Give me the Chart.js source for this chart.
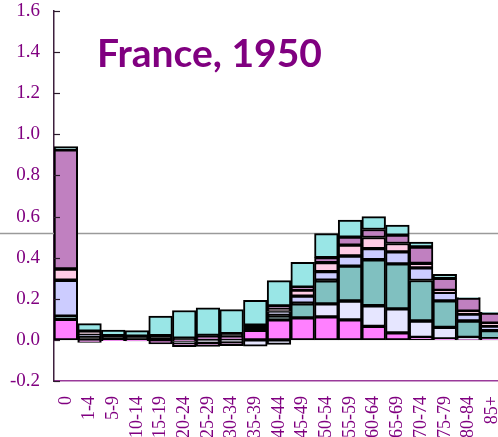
<!DOCTYPE html>
<html><head><meta charset="utf-8">
<script src="https://cdn.jsdelivr.net/npm/chart.js@4/dist/chart.umd.min.js"></script>
<style>
html,body{margin:0;padding:0;overflow:hidden;background:#fff;width:498px;height:437px}
#wrap{position:absolute;left:0;top:0;width:504px;height:470px}
</style>
</head><body><div id="wrap"><canvas id="c" width="504" height="470"></canvas></div>
<script>
const categories = ['0','1-4','5-9','10-14','15-19','20-24','25-29','30-34','35-39','40-44','45-49','50-54','55-59','60-64','65-69','70-74','75-79','80-84','85+'];
const magenta  = [0.100,-0.012,-0.004,-0.005,-0.020,-0.008,0.017,0.017,0.047,0.097,0.107,0.112,0.097,0.066,0.034,0.012,0.005,0.002,0.003];
const lightLav = [0,0,0,0,0,-0.005,-0.012,-0.010,-0.030,-0.022,0,0.063,0.092,0.100,0.117,0.080,0.056,0.010,0.003];
const teal     = [0.015,0,0,0,0,0,0,0,0,0.019,0.068,0.112,0.170,0.224,0.219,0.197,0.129,0.080,0.039];
const black    = [0,0.017,0.020,0.018,0.020,0.008,0.005,0.013,0.025,0.006,0.004,0.004,0,0,0,0,0,0,0];
const lavender = [0.175,0.006,0,0,0,0,0,0,0,0.016,0.034,0.041,0.049,0.054,0.058,0.061,0.041,0.034,0.022];
const pink     = [0.055,0.020,0,0,0,0,0,0,0,0.015,0.029,0.044,0.053,0.054,0.041,0.022,0.010,0.014,0.014];
const purple   = [0.580,0,0,0,0,-0.020,-0.020,-0.018,0,0.012,0.015,0.024,0.039,0.039,0.041,0.080,0.058,0.063,0.049];
const cyan     = [0.015,0.036,0.028,0.027,0.096,0.135,0.134,0.117,0.120,0.123,0.120,0.117,0.083,0.063,0.049,0.024,0.020,0.003,0.004];
const yMin = -0.2, yMax = 1.6, yStep = 0.2;
const refLine = 0.517;
const titleText = 'France, 1950';

const series = [
  {label:'s1', data:magenta,  color:'#FF80FF'},
  {label:'s2', data:lightLav, color:'#E6E6FF'},
  {label:'s3', data:teal,     color:'#80C0C0'},
  {label:'s4', data:black,    color:'#000000'},
  {label:'s5', data:lavender, color:'#CCCCFF'},
  {label:'s6', data:pink,     color:'#FFCCE6'},
  {label:'s7', data:purple,   color:'#C080C0'},
  {label:'s8', data:cyan,     color:'#99E6E6'}
];

const extras = {
  id:'extras',
  beforeDatasetsDraw(chart){
    const c = chart.ctx, y = chart.scales.y;
    const py = y.getPixelForValue(refLine);
    c.save();
    c.strokeStyle = '#9a9a9a'; c.lineWidth = 1.5;
    c.beginPath(); c.moveTo(0, py); c.lineTo(chart.width, py); c.stroke();
    c.restore();
  },
  afterDatasetsDraw(chart){
    const c = chart.ctx, y = chart.scales.y, a = chart.chartArea;
    c.save();
    c.strokeStyle = '#2a1a2a'; c.lineWidth = 1.2;
    y.ticks.forEach(t => {
      const p = Math.round(y.getPixelForValue(t.value)) + 0.5;
      c.beginPath(); c.moveTo(a.left, p); c.lineTo(a.left + 6, p); c.stroke();
    });
    c.fillStyle = '#800080';
    c.font = 'bold 39px Lato';
    c.textBaseline = 'alphabetic';
    c.fillText(titleText, 97, 67);
    c.restore();
  }
};

new Chart(document.getElementById('c').getContext('2d'), {
  type:'bar',
  data:{
    labels:categories,
    datasets:series.map(s => ({label:s.label, data:s.data, backgroundColor:s.color,
      borderColor:'#000', borderWidth:2, borderSkipped:false,
      barPercentage:1, categoryPercentage:1}))
  },
  options:{
    responsive:false, animation:false,
    layout:{padding:{left:0,right:0,top:11,bottom:0}},
    plugins:{legend:{display:false}, tooltip:{enabled:false}, title:{display:false}},
    scales:{
      x:{stacked:true,
        grid:{display:false, drawTicks:false},
        border:{display:true, color:'#9a3a9a', width:1.5},
        ticks:{minRotation:90, maxRotation:90, autoSkip:false, color:'#800080',
          font:{family:'Liberation Serif', size:18}, padding:15},
        afterFit:(s)=>{s.height = 89; s.paddingLeft = 0; s.paddingRight = 0;}
      },
      y:{stacked:true, min:yMin, max:yMax,
        grid:{display:false, drawTicks:false},
        border:{display:true, color:'#3d1f3d', width:1.5},
        ticks:{stepSize:yStep, color:'#800080', font:{family:'Liberation Serif', size:19}, padding:14,
          callback:(v)=>Number(v).toFixed(1)},
        afterFit:(s)=>{s.width = 54; s.paddingTop = 0; s.paddingBottom = 0;}
      }
    }
  },
  plugins:[extras]
});
</script>
</body></html>
